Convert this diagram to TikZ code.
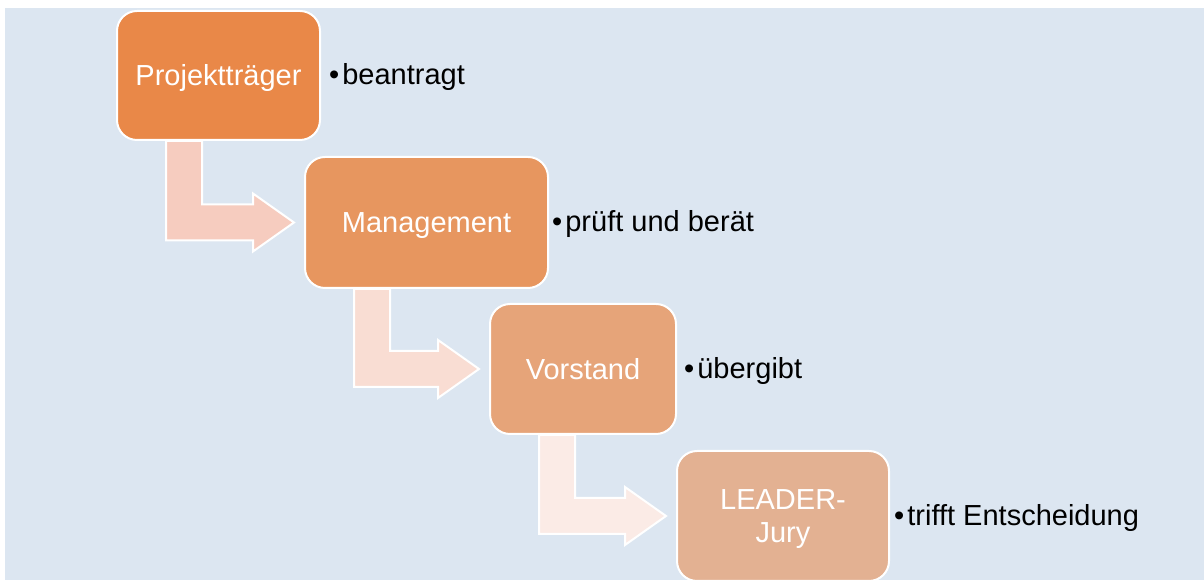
\documentclass[tikz,border=0pt]{standalone}
\usepackage{fontspec}
\setmainfont{Liberation Sans}
\usetikzlibrary{positioning,calc}
\definecolor{backblue}{RGB}{220,230,241}
\definecolor{boxa}{RGB}{233,136,72}
\definecolor{boxb}{RGB}{231,150,95}
\definecolor{boxc}{RGB}{230,164,121}
\definecolor{boxd}{RGB}{227,177,146}
\definecolor{flowa}{RGB}{246,204,191}
\definecolor{flowb}{RGB}{249,221,211}
\definecolor{flowc}{RGB}{251,235,230}
\begin{document}
\begin{tikzpicture}[x=1pt,y=1pt,
  box/.style={rounded corners=20pt,draw=white,line width=2pt,text=white,align=center,
    minimum height=130pt,text depth=0pt,font=\fontsize{29}{33}\selectfont},
  note/.style={inner sep=0pt,yshift=-2pt,font=\fontsize{29}{33}\selectfont},
  flow/.style={fill=#1,draw=white,line width=2pt}]
\useasboundingbox (0,0) rectangle (1204,580);
\fill [backblue] (5,0) rectangle (1204,572);
\node [box,fill=boxa,minimum width=203pt,minimum height=129pt] (p) at (218.5,504.5) {Projektträger};
\node [box,fill=boxb,minimum width=243pt,minimum height=131pt] (m) at (426.5,357.5) {Management};
\node [box,fill=boxc,minimum width=186pt] (v) at (583,211) {Vorstand};
\node [box,fill=boxd,minimum width=212pt] (j) at (783,64) {LEADER-\\Jury};
\foreach \a/\b/\c in {p/m/flowa, m/v/flowb, v/j/flowc}
  \draw [flow=\c] ($(\a.south west)+(50,0)$) coordinate (s) -- ++(36,0)
    |- ($(\b.west)+(-51,18)$) -- ++(0,11) -- ($(\b.west)+(-10,0)$)
    -- ($(\b.west)+(-51,-29)$) -- ++(0,11) -| (s) -- cycle;
\node [note,right=8pt of p] (pn) {•\hspace{3pt}beantragt};
\node [note,right=3pt of m] (mn) {•\hspace{3pt}prüft und berät};
\node [note,right=7pt of v] (vn) {•\hspace{3pt}übergibt};
\node [note,right=4pt of j] (jn) {•\hspace{3pt}trifft Entscheidung};
\end{tikzpicture}
\end{document}
